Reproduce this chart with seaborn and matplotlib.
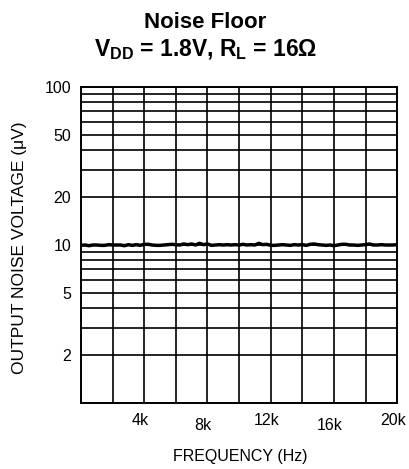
import numpy as np
import pandas as pd
import matplotlib
matplotlib.use("Agg")
import matplotlib.pyplot as plt
import matplotlib.transforms as mtransforms
from matplotlib.ticker import FixedLocator, NullFormatter
import seaborn as sns

# ---- data ----
freq_hz = [0, 250, 500, 750, 1000, 1250, 1500, 1750, 2000, 2250, 2500, 2750,
           3000, 3250, 3500, 3750, 4000, 4250, 4500, 4750, 5000, 5250, 5500, 5750,
           6000, 6250, 6500, 6750, 7000, 7250, 7500, 7750, 8000, 8250, 8500, 8750,
           9000, 9250, 9500, 9750, 10000, 10250, 10500, 10750, 11000, 11250, 11500, 11750,
           12000, 12250, 12500, 12750, 13000, 13250, 13500, 13750, 14000, 14250, 14500, 14750,
           15000, 15250, 15500, 15750, 16000, 16250, 16500, 16750, 17000, 17250, 17500, 17750,
           18000, 18250, 18500, 18750, 19000, 19250, 19500, 19750, 20000]
noise_uv = [9.95, 10.0, 9.9, 10.0, 10.0, 9.95, 9.95, 10.05, 10.0, 10.0, 10.0, 9.9,
            10.05, 9.95, 10.05, 9.95, 10.1, 10.1, 10.0, 9.95, 9.95, 10.0, 10.05, 10.1,
            10.05, 10.0, 10.15, 10.05, 10.15, 10.0, 10.25, 10.05, 10.15, 9.95, 10.0, 10.05,
            10.0, 10.05, 10.0, 10.05, 10.0, 10.1, 10.0, 10.05, 10.0, 10.25, 10.05, 10.1,
            9.95, 9.95, 10.0, 10.05, 10.0, 9.95, 10.05, 10.0, 10.05, 9.95, 10.1, 10.15,
            10.05, 10.0, 9.95, 10.0, 9.9, 10.0, 10.1, 10.1, 10.0, 10.0, 9.95, 10.0,
            10.05, 10.15, 10.0, 10.0, 10.05, 10.0, 10.0, 10.0, 10.05]

x_gridlines = [0, 2000, 4000, 6000, 8000, 10000, 12000, 14000, 16000, 18000, 20000]
x_tick_pos = [4000, 8000, 12000, 16000, 20000]
x_tick_labels = ["4k", "8k", "12k", "16k", "20k"]
y_gridlines = [1, 2, 3, 4, 5, 6, 7, 8, 9, 10, 20, 30, 40, 50, 60, 70, 80, 90, 100]
y_tick_pos = [2, 5, 10, 20, 50, 100]
y_tick_labels = ["2", "5", "10", "20", "50", "100"]

df = pd.DataFrame({"freq": freq_hz, "noise": noise_uv})

sns.set_style("white")
plt.rcParams["font.family"] = ["Liberation Sans", "DejaVu Sans"]
plt.rcParams["mathtext.fontset"] = "custom"
plt.rcParams["mathtext.rm"] = "Liberation Sans"
plt.rcParams["mathtext.bf"] = "Liberation Sans:bold"
plt.rcParams["text.color"] = "black"
plt.rcParams["xtick.color"] = "black"
plt.rcParams["ytick.color"] = "black"

fig = plt.figure(figsize=(4.09, 4.69), dpi=100)
ax = fig.add_axes([0.198, 0.1407, 0.773, 0.6738])

sns.lineplot(data=df, x="freq", y="noise", ax=ax, color="black", linewidth=2.5)

ax.set_yscale("log")
ax.set_xlim(0, 20000)
ax.set_ylim(1, 100)

# grid lines (major + minor so every line is drawn)
ax.xaxis.set_minor_locator(FixedLocator(x_gridlines))
ax.yaxis.set_minor_locator(FixedLocator(y_gridlines))
ax.xaxis.set_minor_formatter(NullFormatter())
ax.yaxis.set_minor_formatter(NullFormatter())

ax.set_xticks(x_tick_pos)
ax.set_xticklabels(x_tick_labels)
ax.set_yticks(y_tick_pos)
ax.set_yticklabels(y_tick_labels)
ax.grid(which="both", color="black", linewidth=1.2)
ax.set_axisbelow(True)
ax.tick_params(which="both", length=0)
ax.tick_params(axis="x", pad=7, labelsize=11.5, labelcolor="black")
ax.tick_params(axis="y", pad=7, labelsize=11.5, labelcolor="black")

# staggered x labels as in the reference
for i, lab in enumerate(ax.get_xticklabels()):
    dx = -3 / 72
    dy = -4 / 72 if i in (1, 3) else 0
    lab.set_transform(lab.get_transform() + mtransforms.ScaledTranslation(dx, dy, fig.dpi_scale_trans))

for sp in ax.spines.values():
    sp.set_color("black")
    sp.set_linewidth(1.4)

ax.set_xlabel("")
ax.set_ylabel("")
fig.text(0.587, 1 - 456 / 469, "FREQUENCY (Hz)", ha="center", va="center", fontsize=11.5)
fig.text(20 / 409, 1 - 248 / 469, "OUTPUT NOISE VOLTAGE (\u03bcV)", ha="center", va="center",
         rotation=90, fontsize=12.5)

fig.text(0.502, 1 - 22 / 469, "Noise Floor", ha="center", va="center", fontsize=16, fontweight="bold")
fig.text(0.502, 1 - 50 / 469, r"$\mathbf{V_{DD}}$" + " = 1.8V, " + r"$\mathbf{R_{L}}$" + " = 16\u03a9",
         ha="center", va="center", fontsize=16.5, fontweight="bold")

fig.savefig("out.png", dpi=100)
